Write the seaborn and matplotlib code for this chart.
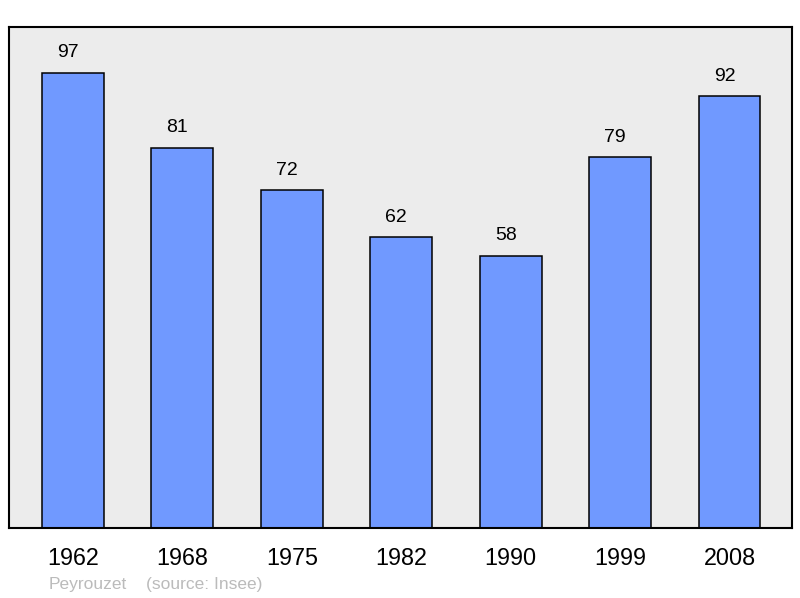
import pandas as pd
import matplotlib
matplotlib.use("Agg")
import matplotlib.pyplot as plt
import seaborn as sns

# Population data
years = ["1962", "1968", "1975", "1982", "1990", "1999", "2008"]
population = [97, 81, 72, 62, 58, 79, 92]
commune = "Peyrouzet"
source = "(source: Insee)"

sns.set_theme(style="white")
plt.rcParams["font.family"] = ["Liberation Sans", "DejaVu Sans"]

data = pd.DataFrame({"year": years, "population": population})

fig = plt.figure(figsize=(8, 5.98), dpi=100)
ax = fig.add_axes([9 / 800, 70 / 598, 783 / 800, 501 / 598])
ax.set_facecolor("#ececec")

sns.barplot(
    data=data,
    x="year",
    y="population",
    color="#7099ff",
    saturation=1,
    width=0.566,
    edgecolor="black",
    linewidth=1.1,
    ax=ax,
)

# Value labels above each bar (slightly left of centre, as in the original)
for patch, value in zip(ax.patches, population):
    ax.annotate(
        f"{value}",
        (patch.get_x() + patch.get_width() / 2, patch.get_height()),
        xytext=(-3.5, 14.5),
        textcoords="offset points",
        ha="center",
        va="center",
        fontsize=14,
        color="black",
    )

ax.set_xlim(-0.584, 6.571)
ax.set_ylim(0, 106.8)
ax.set_yticks([])
ax.set_xlabel("")
ax.set_ylabel("")
ax.tick_params(axis="x", length=0, pad=14, labelsize=16.8, colors="black")

for spine in ax.spines.values():
    spine.set_visible(True)
    spine.set_color("black")
    spine.set_linewidth(1.5)

# Footer
fig.text(49 / 800, 1 - 584 / 598, commune, fontsize=12.5, color="#bbbbbb", va="center")
fig.text(146 / 800, 1 - 584 / 598, source, fontsize=12.5, color="#bbbbbb", va="center")

fig.savefig("out.png", dpi=100, facecolor="white")
plt.close(fig)
